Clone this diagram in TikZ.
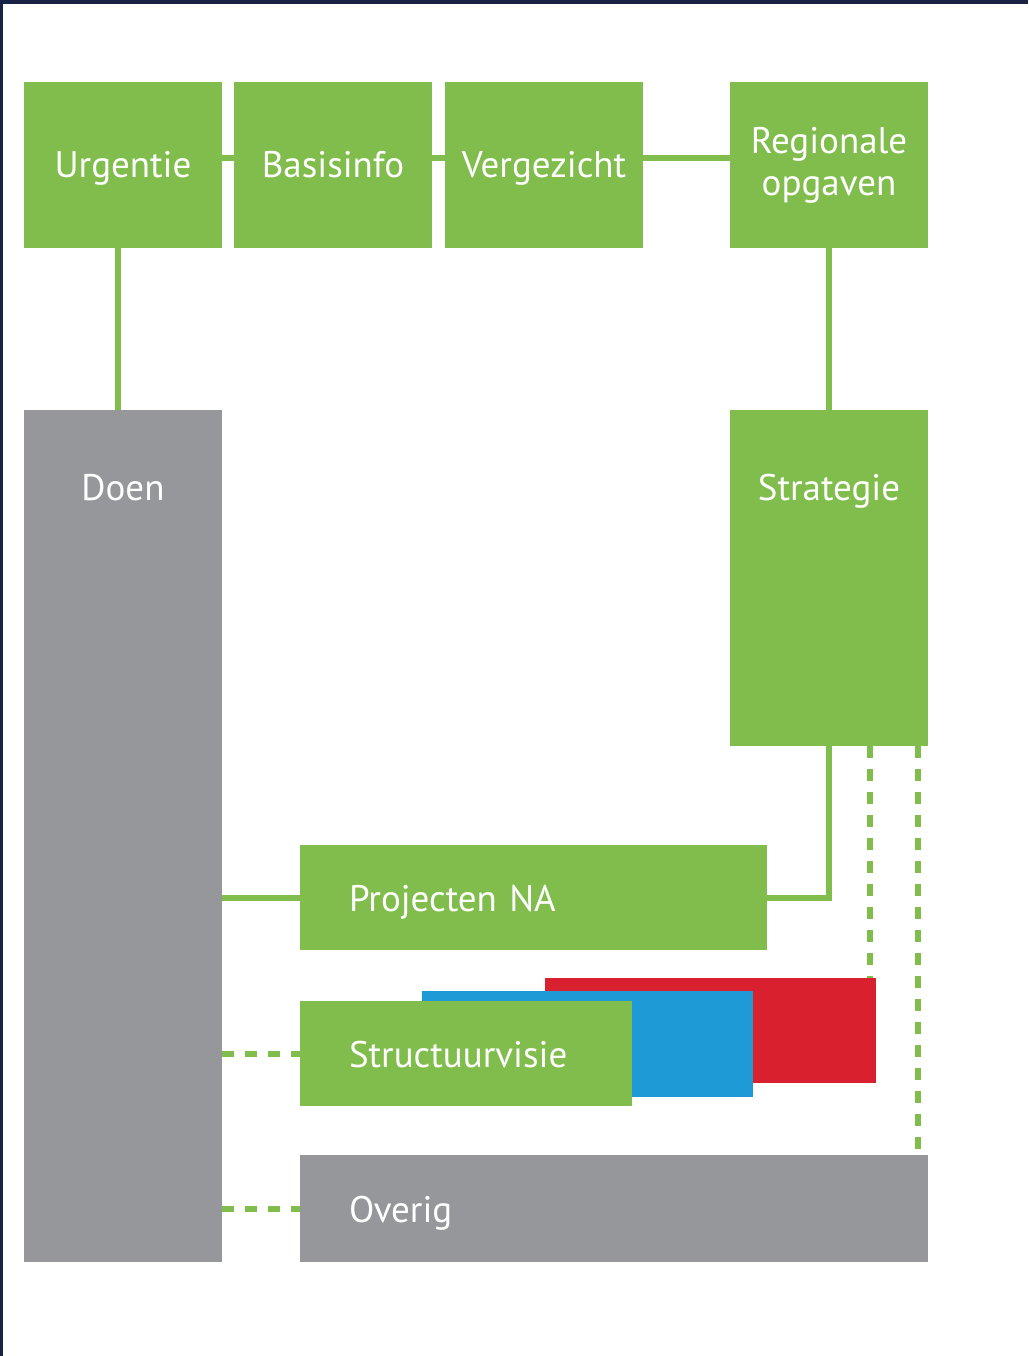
\documentclass[tikz,border=0pt]{standalone}
\usepackage{fontspec}
\setmainfont{PT Sans}
\usepackage{tikz}
\usetikzlibrary{positioning}

\definecolor{nagreen}{RGB}{128,189,76}
\definecolor{nagrey}{RGB}{150,151,155}
\definecolor{nared}{RGB}{216,32,46}
\definecolor{nablue}{RGB}{30,155,215}
\definecolor{naframe}{RGB}{24,34,68}

\begin{document}
\begin{tikzpicture}[x=1pt, y=-1pt, inner sep=0pt, outer sep=0pt,
  every node/.style={text=white, font=\fontsize{37}{42}\selectfont, align=center},
  blok/.style={rectangle, fill=nagreen, minimum width=198pt, minimum height=166pt},
  eenregel/.style={text height=27pt, text depth=1pt},
  balk/.style={rectangle, anchor=north west, fill=#1, minimum height=105pt, align=left, inner xsep=49pt,
    text height=27pt, text depth=0pt},
  lijn/.style={draw=nagreen, line width=6pt},
  stippel/.style={draw=nagreen, line width=6pt, dash pattern=on 12pt off 11pt}]
\useasboundingbox (0,0) rectangle (1028,1356);
\fill[naframe] (0,0) rectangle (1028,4);
\fill[naframe] (0,0) rectangle (3,1356);

%nodes

\node (urgentie) [blok, eenregel, anchor=north west] at (24,82) {Urgentie};
\node (basisinfo) [blok, eenregel, right=12pt of urgentie]      {Basisinfo};
\node (vergezicht) [blok, eenregel, right=13pt of basisinfo]    {Vergezicht};
\node (regionale) [blok, right=87pt of vergezicht]              {Regionale\\opgaven};

\node (doen) [blok, fill=nagrey, minimum height=852pt, below=162pt of urgentie,
  label={[anchor=base, yshift=-90pt]north:Doen}] {};
\node (strategie) [blok, minimum height=336pt, below=162pt of regionale,
  label={[anchor=base, yshift=-90pt]north:Strategie}] {};

\node (projecten) [balk=nagreen, text width=369pt] at (300,845) {Projecten NA};
\node (rood) [balk=nared, minimum width=331pt] at (545,978) {};
\node (blauw) [balk=nablue, minimum width=331pt, minimum height=106pt] at (422,991) {};
\node (structuurvisie) [balk=nagreen, text width=234pt] at (300,1001) {Structuurvisie};
\node (overig) [balk=nagrey, text width=530pt, minimum height=107pt] at (300,1155) {Overig};

%links
\draw[lijn] ([yshift=7pt]urgentie.east) -- ([yshift=7pt]basisinfo.west);
\draw[lijn] ([yshift=7pt]basisinfo.east) -- ([yshift=7pt]vergezicht.west);
\draw[lijn] ([yshift=7pt]vergezicht.east) -- ([yshift=7pt]regionale.west);
\draw[lijn] ([xshift=-5pt]urgentie.south) -- ([xshift=-5pt]doen.north);
\draw[lijn] (regionale.south) -- (strategie.north);
\draw[lijn] (strategie.south) |- (projecten.east);
\draw[lijn] (doen.east |- projecten.west) -- (projecten.west);
\draw[stippel] (doen.east |- structuurvisie.west) -- (structuurvisie.west);
\draw[stippel] (doen.east |- overig.west) -- (overig.west);
\draw[stippel] ([xshift=41pt]strategie.south) -- ([xshift=41pt]strategie.south |- rood.north);
\draw[stippel] ([xshift=89pt]strategie.south) -- ([xshift=89pt]strategie.south |- overig.north);
\end{tikzpicture}
\end{document}
